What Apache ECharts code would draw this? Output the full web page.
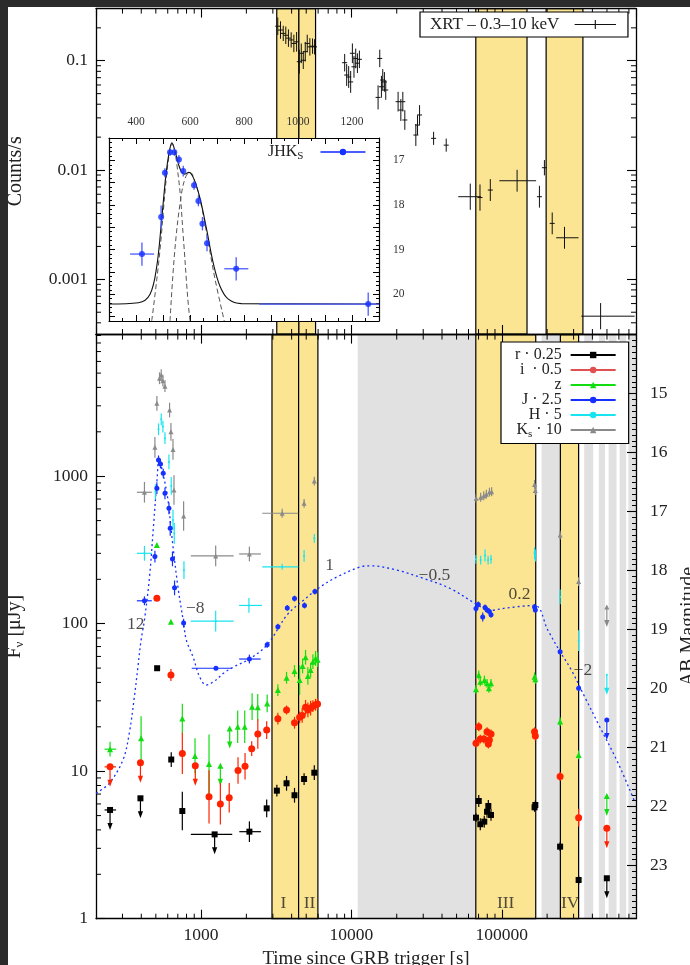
<!DOCTYPE html>
<html><head><meta charset="utf-8">
<script src="https://cdn.jsdelivr.net/npm/echarts@6/dist/echarts.min.js"></script>
<style>html,body{margin:0;padding:0;background:#fff}#c{width:690px;height:965px}</style>
</head><body><div id="c"></div><script>
// ---------------- DATA ----------------
const XMIN = 200, XMAX = 780000;
const TOP_YMIN = 3.16e-4, TOP_YMAX = 0.3;
const BOT_YMIN = 1, BOT_YMAX = 9120;
const MAG_MIN = 14, MAG_MAX = 23.9;

// XRT: [t, counts/s, dex err, tLo, tHi]
const xrt = [
 [3235,0.207,0.08],[3373,0.191,0.08],[3517,0.178,0.07],[3657,0.171,0.08],[3809,0.161,0.08],[3972,0.155,0.07],
 [4138,0.144,0.08],[4315,0.149,0.09],[4498,0.098,0.11],[4637,0.117,0.09],[4780,0.101,0.08],[4928,0.121,0.09],
 [5080,0.144,0.08],[5288,0.134,0.08],[5508,0.136,0.07],[5681,0.134,0.07],
 [9010,0.096,0.08],[9290,0.074,0.1],[9578,0.071,0.1],[9875,0.064,0.1],[10140,0.117,0.09],[10390,0.088,0.1],
 [10670,0.105,0.09],[10950,0.095,0.09],[11290,0.103,0.08],
 [15030,0.0462,0.11],[15420,0.105,0.08],[15820,0.0578,0.1],[16140,0.0666,0.1],[16560,0.064,0.09],[16900,0.054,0.09],
 [20420,0.0422,0.09],[21290,0.0354,0.1],[21950,0.0422,0.09],[22630,0.0287,0.09],[26790,0.0209,0.1],[27490,0.0258,0.09],
 [28360,0.0319,0.09],[35170,0.0195,0.06],[42660,0.0169,0.06],
 [61660,0.0057,0.12,51290,72610],[71560,0.0056,0.12],[83800,0.00656,0.1],[126300,0.00798,0.1,96200,169000],
 [177800,0.0057,0.1],[191900,0.0105,0.07],[216200,0.00325,0.1],[261000,0.0024,0.1,229700,323600],
 [453600,0.00046,0.12,337300,764000]
];

// Bottom panel: [t, F(uJy), dex err, tLo, tHi, upperLimit]
const rData = [
 [248,5.46,0,228,272,1],[395,6.55,0,0,0,1],[510,49.9],[633,12.0,0.05],[750,5.37,0.13],[1230,3.73,0,854,1611,1],
 [2095,3.89,0.07,1795,2500],[2730,5.6,0.06],[3190,7.38,0.04],[3700,8.28,0.05],[4180,6.87,0.05],[4840,8.85,0.04],[5660,9.77,0.05],
 [67300,4.84,0.03],[70200,6.28,0.04],[71900,4.37,0.04],[76400,4.55,0.04],[79700,5.31,0.04],[81300,5.81,0.04],[84700,5.05,0.04],
 [165000,5.69,0.03],[167000,5.9,0.03],[244000,3.08,0.03],[324000,1.83,0.03],[499000,1.88,0,0,0,1]
];
const iData = [
 [248,10.7,0,228,272,1],[395,11.4,0,0,0,1],[508,149],[630,44.9,0.04],[750,13.2,0.14],[915,10.9,0,0,0,1],[1129,6.7,0.18],
 [1343,6.0,0.14],[1538,6.6,0.1],[1760,10.1,0.09],[1960,10.8,0.09],[2170,14.2,0.05],[2383,17.9,0.1],[2730,19.0,0.06],
 [3240,22.7,0.04],[3700,26,0.03],[4180,21.3,0.04],[4520,23.2,0.04],[4700,23.9,0.05],[4950,27.1,0.05],[5130,26,0.05],
 [5350,26.8,0.05],[5540,27.6,0.04],[5770,28.2,0.04],[5950,28.5,0.04],
 [67300,15.5,0.03],[70200,20.0,0.03],[71900,16.5,0.03],[76000,16.5,0.03],[79700,18.5,0.03],[81300,15.3,0.03],[82600,16.3,0.03],[84700,17.9,0.03],
 [165000,18.5,0.03],[167000,17.3,0.03],[244000,9.2,0.03],[324000,4.84,0.06],[499000,4.1,0,0,0,1]
];
const zData = [
 [248,14.1,0.05,228,272],[399,16.7,0.15],[508,342],[630,103],[750,22.8,0.1],[911,12.7,0.12],[1129,11.2,0.2],[1343,10.9,0,0,0,1],
 [1549,19.5,0,0,0,1],[1751,20.0,0.11],[1950,20.0,0.11],[2183,27.4,0.09],[2380,27.1,0.09],[2750,28.8,0.06],[3240,35.5,0.04],
 [3700,43,0.04],[4180,47.8,0.04],[4520,41.5,0.1],[4730,51.7,0.05],[4950,59.2,0.05],[5130,44.2,0.06],[5350,48.5,0.05],
 [5540,55.3,0.05],[5770,58.2,0.05],[5950,57,0.05],
 [67300,35.9,0.03],[70200,44.9,0.03],[71900,40.4,0.03],[76600,41.5,0.03],[79700,39.4,0.03],[82000,36.5,0.03],[84700,39.4,0.03],
 [165000,43.7,0.03],[167000,42,0.03],[244000,21.7,0.03],[324000,12.9,0.03],[499000,6.8,0,0,0,1]
];
const jData = [
 [420,143,0.03,374,470],[493,285,0.04],[508,829,0.04],[521,1290,0.03],[537,1210,0.03],[560,1047,0.03],[575,766,0.04],
 [611,606,0.04],[623,443,0.05],[645,275,0.05],[666,175,0.05],[765,101,0.03],[1255,49.9,0,866,1611],[2095,57.6,0.03,1790,2490],
 [2750,72,0.02],[3240,95.4,0.02],[3740,128,0.02],[4180,148,0.02],[4870,133,0.02],[5710,165,0.02],
 [67300,127,0.03],[69700,135,0.02],[74600,111,0.03],[77300,129,0.02],[79700,124,0.02],[82600,121,0.02],[84700,115,0.02],
 [165000,130,0.02],[167000,124,0.02],[244000,64.6,0.02],[324000,36.5,0.02],[499000,22.2,0,0,0,1]
];
const hData = [
 [420,300,0.05,374,470],[497,785,0.05],[521,2080,0.04],[543,2430,0.04],[557,2170,0.04],[575,1810,0.04],[611,1250,0.05],
 [633,859,0.06],[650,505,0.07],[663,410,0.07],[769,231,0.06],[1250,104,0.07,854,1645],[2080,133,0.05,1790,2540],
 [3460,243,0.02,2550,4430],[4840,288,0.04],[5660,379,0.03],
 [67300,273,0.03],[72300,270,0.03],[77300,290,0.04],[81000,270,0.03],[84700,273,0.03],[165000,300,0.04],[167000,290,0.04],
 [244000,152,0.05],[324000,76.7,0.07],[499000,45,0,0,0,1]
];
const kData = [
 [420,778,0.07,374,470],[493,1570,0.07],[508,3120,0.05],[529,4615,0.04],[543,4850,0.04],[557,4440,0.04],[575,4080,0.04],
 [617,2810,0.05],[630,2000,0.06],[650,1520,0.07],[660,806,0.1],[765,537,0.1],[1250,288,0.07,854,1645],[2095,297,0.05,1790,2500],
 [3460,561,0.03,2550,4430],[4840,655,0.03],[5660,927,0.03],
 [67500,708,0.03],[72300,720,0.03],[75800,737,0.03],[78900,755,0.03],[82700,780,0.03],[85500,785,0.03],
 [165000,880,0.03],[167000,800,0.03],[244000,399,0.03],[324000,193,0.03],[499000,130,0,0,0,1]
];
// blue dotted model curve (J band)
const modelJ = [
 [200,7.08],[245,8.28],[302,11.9],[333,18.1],[360,32],[380,51],[399,77.6],[420,106],[454,208],[482,455],[511,993],[524,1300],
 [557,1047],[602,690],[643,369],[701,178],[765,101],[797,77.6],[883,59.7],[977,43.7],[1083,38.4],[1263,41.7],[1400,46],[1647,51],
 [2095,57.6],[2750,72],[3740,115],[4820,145],[6230,178],[8040,208],[11500,243],[13300,247],[20000,231],[30000,203],[45000,174],
 [67500,136],[82700,123],[108000,128],[166000,133],[202000,90.6],[244000,64.6],[290000,48.5],[355000,32],[436000,21.1],
 [594000,11.3],[765000,6.2]
];
// slope annotations
const annT = [367, 915, 7160, 35600, 131000, 346000];
const annF = [99, 126, 247, 214, 157, 48.5];
const annTxt = ['12', '\u22128', '1', '\u22120.5', '0.2', '\u22122'];
// epoch labels
const romT = [3530, 5260, 106000, 285000];
const romF = [1.27, 1.27, 1.27, 1.27];
const romTxt = ['I', 'II', 'III', 'IV'];

// bands
const topBands = [[3185, 4470], [4470, 5770], [67100, 147000], [197000, 346000]];
const botYellow = [[2960, 4450], [4450, 5980], [67100, 168000], [245000, 324000]];
const botGray = [[11000, 67100], [183700, 243700], [353000, 405000], [442000, 485000], [513000, 579000], [607000, 671000], [694000, 780000]];

// inset: JHKs magnitudes [t, mag, magErr, tLo, tHi]
const insetPts = [
 [422,19.10,0.26,378,467],[493,18.27,0.26],[507,17.28,0.1],[526,16.82,0.08],[542,16.82,0.08],[559,16.98,0.1],[575,17.24,0.12],
 [615,17.56,0.1],[631,17.91,0.12],[646,18.42,0.15],[663,18.86,0.18],[771,19.43,0.26,727,816],[1260,20.22,0.26,856,1300]
];
const insetTotal = [
 [300,20.22],[409,20.19],[452,20.0],[477,19.37],[495,18.33],[510,17.37],[522,16.85],[533,16.61],[544,16.78],[563,17.19],
 [579,17.31],[596,17.27],[614,17.41],[637,17.85],[662,18.56],[686,19.30],[711,19.82],[742,20.11],[791,20.21],[1300,20.22]
];
const insetNarrow = [[458,20.6],[464,20.33],[489,19.0],[507,17.74],[522,16.9],[533,16.63],[557,17.37],[575,18.7],[591,20.04],[600,20.6]];
const insetBroad = [[526,20.6],[544,19.0],[567,17.81],[584,17.37],[600,17.27],[619,17.49],[643,18.04],[668,18.85],[693,19.67],[727,20.6]];

const minorMult = [2,3,4,5,6,7,8,9];
const xDecades = [100, 1000, 10000, 100000];
const topDecades = [1e-4, 1e-3, 1e-2, 1e-1];
const botDecades = [1, 10, 100, 1000];

// ---------------- HELPERS ----------------
const FONT = 'Liberation Serif';
function norm(a){ return a.map(p => [p[0], p[1], p[2]||0, p[3]||0, p[4]||0, p[5]||0]); }
function minorVals(decs, lo, hi){ const o=[]; decs.forEach(d => minorMult.forEach(m => { const v=d*m; if (v>lo*1.0001 && v<hi*0.9999) o.push(v); })); return o; }
function decadeLabel(v){ const l = Math.log10(v); if (Math.abs(l - Math.round(l)) > 1e-6) return ''; return String(+v.toPrecision(6)); }

function errRender(color, lw, crossLen) {
  return function(params, api) {
    const t = api.value(0), f = api.value(1), d = api.value(2), tlo = api.value(3), thi = api.value(4), ul = api.value(5);
    const p = api.coord([t, f]);
    const st = {stroke: color, lineWidth: lw};
    const ch = [];
    if (d > 0) {
      const a = api.coord([t, f * Math.pow(10, d)]), b = api.coord([t, f / Math.pow(10, d)]);
      ch.push({type:'line', shape:{x1:p[0], y1:a[1], x2:p[0], y2:b[1]}, style:st});
    }
    if (tlo > 0) {
      const a = api.coord([tlo, f]), b = api.coord([thi, f]);
      ch.push({type:'line', shape:{x1:a[0], y1:p[1], x2:b[0], y2:p[1]}, style:st});
    } else if (crossLen) {
      ch.push({type:'line', shape:{x1:p[0]-crossLen, y1:p[1], x2:p[0]+crossLen, y2:p[1]}, style:st});
    }
    if (ul) {
      ch.push({type:'line', shape:{x1:p[0], y1:p[1], x2:p[0], y2:p[1]+17}, style:st});
      ch.push({type:'polygon', shape:{points:[[p[0]-2.6,p[1]+13],[p[0]+2.6,p[1]+13],[p[0],p[1]+20]]}, style:{fill:color}});
    }
    return {type:'group', children:ch};
  };
}
function magErrRender(color, lw) {
  return function(params, api) {
    const t = api.value(0), m = api.value(1), d = api.value(2), tlo = api.value(3), thi = api.value(4);
    const p = api.coord([t, m]);
    const st = {stroke: color, lineWidth: lw};
    const ch = [];
    if (d > 0) {
      const a = api.coord([t, m - d]), b = api.coord([t, m + d]);
      ch.push({type:'line', shape:{x1:p[0], y1:a[1], x2:p[0], y2:b[1]}, style:st});
    }
    if (tlo > 0) {
      const a = api.coord([tlo, m]), b = api.coord([thi, m]);
      ch.push({type:'line', shape:{x1:a[0], y1:p[1], x2:b[0], y2:p[1]}, style:st});
    }
    return {type:'group', children:ch};
  };
}
function tickRender(kind, sides, len) {
  return function(params, api) {
    const cs = params.coordSys;
    const pt = api.coord([api.value(0), api.value(1)]);
    const st = {stroke:'#000', lineWidth:1};
    const ch = [];
    if (kind === 'x') {
      const x = pt[0];
      if (sides.indexOf('b') >= 0) ch.push({type:'line', shape:{x1:x, y1:cs.y+cs.height, x2:x, y2:cs.y+cs.height-len}, style:st});
      if (sides.indexOf('t') >= 0) ch.push({type:'line', shape:{x1:x, y1:cs.y, x2:x, y2:cs.y+len}, style:st});
    } else {
      const y = pt[1];
      if (sides.indexOf('l') >= 0) ch.push({type:'line', shape:{x1:cs.x, y1:y, x2:cs.x+len, y2:y}, style:st});
      if (sides.indexOf('r') >= 0) ch.push({type:'line', shape:{x1:cs.x+cs.width, y1:y, x2:cs.x+cs.width-len, y2:y}, style:st});
    }
    return {type:'group', children:ch};
  };
}

const lineAx = {show:true, lineStyle:{color:'#000', width:1.3}};
const tickAx = {show:true, inside:true, length:9, lineStyle:{color:'#000', width:1.1}};
const lblNone = {show:false};
const lblStyle = {fontFamily:FONT, fontSize:17.5, color:'#222'};

const COLORS = {r:'#000000', i:'#ff2200', z:'#11dd11', J:'#1530ff', H:'#18e4f0', K:'#8a8a8a'};
const YELLOW = '#fce592', GRAY = '#e1e1e1';

const series = [];
function bandSeries(xi, yi, bands, color, border) {
  return {type:'line', xAxisIndex:xi, yAxisIndex:yi, data:[], z:1, silent:true,
    markArea:{silent:true, data: bands.map(b => [
      {xAxis:b[0], itemStyle:{color:color, opacity:1, borderColor: border ? '#000' : color, borderWidth: border ? 1.2 : 0}},
      {xAxis:b[1]}])}};
}
series.push(bandSeries(0, 0, topBands, YELLOW, true));
series.push(bandSeries(2, 2, botGray, GRAY, false));
series.push(bandSeries(2, 2, botYellow, YELLOW, true));

const xMinor = minorVals(xDecades, XMIN, XMAX);
series.push({type:'custom', xAxisIndex:0, yAxisIndex:0, z:3, silent:true, renderItem: tickRender('x','bt',5), data: xMinor.map(v => [v, 0.01])});
series.push({type:'custom', xAxisIndex:2, yAxisIndex:2, z:3, silent:true, renderItem: tickRender('x','bt',5), data: xMinor.map(v => [v, 10])});
series.push({type:'custom', xAxisIndex:0, yAxisIndex:0, z:3, silent:true, renderItem: tickRender('y','lr',5), data: minorVals(topDecades, TOP_YMIN, TOP_YMAX).map(v => [1000, v])});
series.push({type:'custom', xAxisIndex:2, yAxisIndex:2, z:3, silent:true, renderItem: tickRender('y','l',5), data: minorVals(botDecades, BOT_YMIN, BOT_YMAX).map(v => [1000, v])});

series.push({type:'custom', xAxisIndex:0, yAxisIndex:0, z:4, silent:true, renderItem: errRender('#111', 1, 2.5), data: norm(xrt)});

series.push({type:'line', xAxisIndex:2, yAxisIndex:2, z:4, silent:true, data: modelJ, smooth:0.35, symbol:'none',
  lineStyle:{color:'#1530ff', width:1.3, type:[2,3]}});

const bands = [
  {d:kData, c:COLORS.K, sym:'triangle', size:5},
  {d:hData, c:COLORS.H, sym:'circle', size:2},
  {d:jData, c:COLORS.J, sym:'circle', size:5},
  {d:zData, c:COLORS.z, sym:'triangle', size:6},
  {d:iData, c:COLORS.i, sym:'circle', size:7},
  {d:rData, c:COLORS.r, sym:'rect', size:6}
];
bands.forEach(b => {
  series.push({type:'custom', xAxisIndex:2, yAxisIndex:2, z:5, silent:true, renderItem: errRender(b.c, 1.2, 0), data: norm(b.d)});
  series.push({type:'scatter', xAxisIndex:2, yAxisIndex:2, z:5, silent:true, symbol:b.sym, symbolSize:b.size,
    itemStyle:{color:b.c, opacity:1}, data: b.d.map(p => [p[0], p[1]])});
});

series.push({type:'scatter', xAxisIndex:2, yAxisIndex:2, z:6, silent:true, symbolSize:1, itemStyle:{color:'transparent'},
  data: annT.map((t, k) => ({value:[t, annF[k]], label:{formatter: annTxt[k]}})),
  label:{show:true, position:'inside', fontFamily:FONT, fontSize:17.5, color:'#222'}});
series.push({type:'scatter', xAxisIndex:2, yAxisIndex:2, z:6, silent:true, symbolSize:1, itemStyle:{color:'transparent'},
  data: romT.map((t, k) => ({value:[t, romF[k]], label:{formatter: romTxt[k]}})),
  label:{show:true, position:'inside', fontFamily:FONT, fontSize:17.5, color:'#222'}});

series.push({type:'line', xAxisIndex:4, yAxisIndex:4, z:7, silent:true, data: insetNarrow, smooth:0.4, symbol:'none', lineStyle:{color:'#555', width:1, type:[5,3]}});
series.push({type:'line', xAxisIndex:4, yAxisIndex:4, z:7, silent:true, data: insetBroad, smooth:0.4, symbol:'none', lineStyle:{color:'#555', width:1, type:[5,3]}});
series.push({type:'line', xAxisIndex:4, yAxisIndex:4, z:7, silent:true, data: insetTotal, smooth:0.35, symbol:'none', lineStyle:{color:'#111', width:1.1}});
series.push({type:'custom', xAxisIndex:4, yAxisIndex:4, z:8, silent:true, renderItem: magErrRender('#4a5cff', 1.3), data: norm(insetPts)});
series.push({type:'scatter', xAxisIndex:4, yAxisIndex:4, z:8, silent:true, symbol:'circle', symbolSize:6, itemStyle:{color:'#1530ff'}, data: insetPts.map(p => [p[0], p[1]])});

const legBot = [
  {n:'r \u00b7 0.25', c:COLORS.r, s:'rect', ss:6},
  {n:'i  \u00b7 0.5', c:'#e05050', s:'circle', ss:7},
  {n:'z', c:COLORS.z, s:'triangle', ss:5},
  {n:'J \u00b7 2.5', c:COLORS.J, s:'circle', ss:5},
  {n:'H \u00b7 5', c:COLORS.H, s:'circle', ss:2},
  {n:'Ks \u00b7 10', c:COLORS.K, s:'triangle', ss:5}
];
legBot.forEach(l => series.push({type:'line', name:l.n, xAxisIndex:2, yAxisIndex:2, data:[], symbol:l.s, symbolSize:l.ss,
  itemStyle:{color:l.c}, lineStyle:{color:l.c, width:1.5}}));
series.push({type:'line', name:'XRT \u2013 0.3\u201310 keV', xAxisIndex:0, yAxisIndex:0, data:[], symbol:'none',
  itemStyle:{color:'#111'}, lineStyle:{color:'#111', width:1.2}});
series.push({type:'line', name:'JHKS', xAxisIndex:4, yAxisIndex:4, data:[], symbol:'circle', symbolSize:6,
  itemStyle:{color:'#1530ff'}, lineStyle:{color:'#4a5cff', width:1.3}});

const legRich = {t:{fontFamily:FONT, fontSize:16, color:'#222', lineHeight:15}, sub:{fontFamily:FONT, fontSize:11, color:'#222', padding:[8,0,0,0]}};

const option = {
  animation:false,
  backgroundColor:'#fff',
  graphic:[
    {type:'rect', shape:{x:0, y:0, width:690, height:7}, style:{fill:'#2b2b2b'}, z:100, silent:true},
    {type:'rect', shape:{x:0, y:0, width:8, height:965}, style:{fill:'#2b2b2b'}, z:100, silent:true}
  ],
  grid:[
    {left:96, top:8.6, width:540, height:325.4, outerBoundsMode:'none', containLabel:false},
    {left:96, top:334.6, width:540, height:584.1, outerBoundsMode:'none', containLabel:false},
    {left:109, top:138, width:270, height:183, show:true, backgroundColor:'#fff', borderWidth:0, z:5, outerBoundsMode:'none', containLabel:false}
  ],
  xAxis:[
    {type:'log', logBase:10, gridIndex:0, min:XMIN, max:XMAX, position:'bottom', z:3, axisLine:lineAx, axisTick:tickAx, axisLabel:lblNone, splitLine:{show:false}},
    {type:'log', logBase:10, gridIndex:0, min:XMIN, max:XMAX, position:'top', z:3, axisLine:lineAx, axisTick:tickAx, axisLabel:lblNone, splitLine:{show:false}},
    {type:'log', logBase:10, gridIndex:1, min:XMIN, max:XMAX, position:'bottom', z:3, axisLine:lineAx, axisTick:tickAx,
      axisLabel:Object.assign({formatter:decadeLabel, margin:8, showMinLabel:false, showMaxLabel:false}, lblStyle), splitLine:{show:false},
      name:'Time since GRB trigger [s]', nameLocation:'middle', nameGap:27, nameTextStyle:{fontFamily:FONT, fontSize:19, color:'#222'}},
    {type:'log', logBase:10, gridIndex:1, min:XMIN, max:XMAX, position:'top', z:3, axisLine:lineAx, axisTick:tickAx, axisLabel:lblNone, splitLine:{show:false}},
    {type:'value', gridIndex:2, min:300, max:1300, interval:100, position:'top', z:6, axisLine:{show:true, lineStyle:{color:'#000', width:1.2}},
      axisTick:{show:true, inside:true, length:6, lineStyle:{color:'#000'}}, minorTick:{show:true, splitNumber:2, length:3, lineStyle:{color:'#000'}},
      axisLabel:{formatter: v => (v % 200 === 0 && v > 300 && v < 1300) ? String(v) : '', fontFamily:FONT, fontSize:11.5, color:'#333', margin:10},
      splitLine:{show:false}},
    {type:'value', gridIndex:2, min:300, max:1300, interval:100, position:'bottom', z:6, axisLine:{show:true, lineStyle:{color:'#000', width:1.2}},
      axisTick:{show:true, inside:true, length:6, lineStyle:{color:'#000'}}, minorTick:{show:true, splitNumber:2, length:3, lineStyle:{color:'#000'}},
      axisLabel:lblNone, splitLine:{show:false}}
  ],
  yAxis:[
    {type:'log', logBase:10, gridIndex:0, min:TOP_YMIN, max:TOP_YMAX, position:'left', z:3, axisLine:lineAx, axisTick:tickAx,
      axisLabel:Object.assign({formatter:decadeLabel, margin:8, showMinLabel:false, showMaxLabel:false}, lblStyle), splitLine:{show:false},
      name:'Counts/s', nameLocation:'middle', nameGap:70, nameTextStyle:{fontFamily:FONT, fontSize:20, color:'#222'}},
    {type:'log', logBase:10, gridIndex:0, min:TOP_YMIN, max:TOP_YMAX, position:'right', z:3, axisLine:lineAx, axisTick:tickAx, axisLabel:lblNone, splitLine:{show:false}},
    {type:'log', logBase:10, gridIndex:1, min:BOT_YMIN, max:BOT_YMAX, position:'left', z:3, axisLine:lineAx, axisTick:tickAx,
      axisLabel:Object.assign({formatter:decadeLabel, margin:8, showMaxLabel:false}, lblStyle), splitLine:{show:false},
      name:'{a|F}{s|\u03bd}{a| [\u03bcJy]}', nameLocation:'middle', nameGap:70,
      nameTextStyle:{fontFamily:FONT, fontSize:20, color:'#222', rich:{a:{fontFamily:FONT, fontSize:20, color:'#222'}, s:{fontFamily:FONT, fontSize:13, color:'#222', padding:[9,0,0,0]}}}},
    {type:'value', gridIndex:1, min:MAG_MIN, max:MAG_MAX, interval:1, inverse:true, position:'right', z:3, axisLine:lineAx,
      axisTick:{show:true, inside:true, length:9, lineStyle:{color:'#000', width:1.1}},
      minorTick:{show:true, splitNumber:10, length:4, lineStyle:{color:'#000', width:1}},
      axisLabel:Object.assign({formatter: v => (Number.isInteger(v) && v >= 15 && v <= 23) ? String(v) : '', margin:14}, lblStyle), splitLine:{show:false},
      name:'AB Magnitude', nameLocation:'middle', nameGap:40, nameRotate:90, nameTextStyle:{fontFamily:FONT, fontSize:20, color:'#222'}},
    {type:'value', gridIndex:2, min:16.5, max:20.6, interval:0.5, inverse:true, position:'right', z:6, axisLine:{show:true, lineStyle:{color:'#000', width:1.2}},
      axisTick:{show:true, inside:true, length:6, lineStyle:{color:'#000'}}, minorTick:{show:true, splitNumber:5, length:3, lineStyle:{color:'#000'}},
      axisLabel:{formatter: v => Number.isInteger(v) ? String(v) : '', fontFamily:FONT, fontSize:11.5, color:'#333', margin:14}, splitLine:{show:false}},
    {type:'value', gridIndex:2, min:16.5, max:20.6, interval:0.5, inverse:true, position:'left', z:6, axisLine:{show:true, lineStyle:{color:'#000', width:1.2}},
      axisTick:{show:true, inside:true, length:6, lineStyle:{color:'#000'}}, minorTick:{show:true, splitNumber:5, length:3, lineStyle:{color:'#000'}},
      axisLabel:lblNone, splitLine:{show:false}}
  ],
  legend:[
    {data:legBot.map(l => l.n), orient:'vertical', align:'right', left:501, top:342, itemWidth:45, itemHeight:8, itemGap:-1,
      padding:[5,12,4,14], backgroundColor:'#fff', borderColor:'#000', borderWidth:1.2, selectedMode:false, z:9,
      textStyle:{fontFamily:FONT, fontSize:16, color:'#222', lineHeight:15, rich:legRich},
      formatter: n => n.indexOf('Ks') === 0 ? '{t|K}{sub|s}{t| \u00b7 10 }' : '{t|' + n + ' }'},
    {data:['XRT \u2013 0.3\u201310 keV'], orient:'horizontal', align:'right', left:420, top:12, itemWidth:45, itemHeight:9,
      icon:'path://M0,4.3H45V5.5H0Z M21.9,0H23.1V9.8H21.9Z',
      padding:[4,12,4,10], backgroundColor:'#fff', borderColor:'#000', borderWidth:1.2, selectedMode:false, z:9,
      textStyle:{fontFamily:FONT, fontSize:17, color:'#222'}, formatter: n => n + '  '},
    {data:['JHKS'], orient:'horizontal', align:'right', left:268, top:144, itemWidth:45, itemHeight:8, padding:0, selectedMode:false, z:9,
      textStyle:{fontFamily:FONT, fontSize:16, color:'#222', rich:legRich},
      formatter: () => '{t|JHK}{sub|S}{t|   }'}
  ],
  series: series
};
const chart = echarts.init(document.getElementById('c'), null, {renderer:'canvas'});
chart.setOption(option);
</script></body></html>
